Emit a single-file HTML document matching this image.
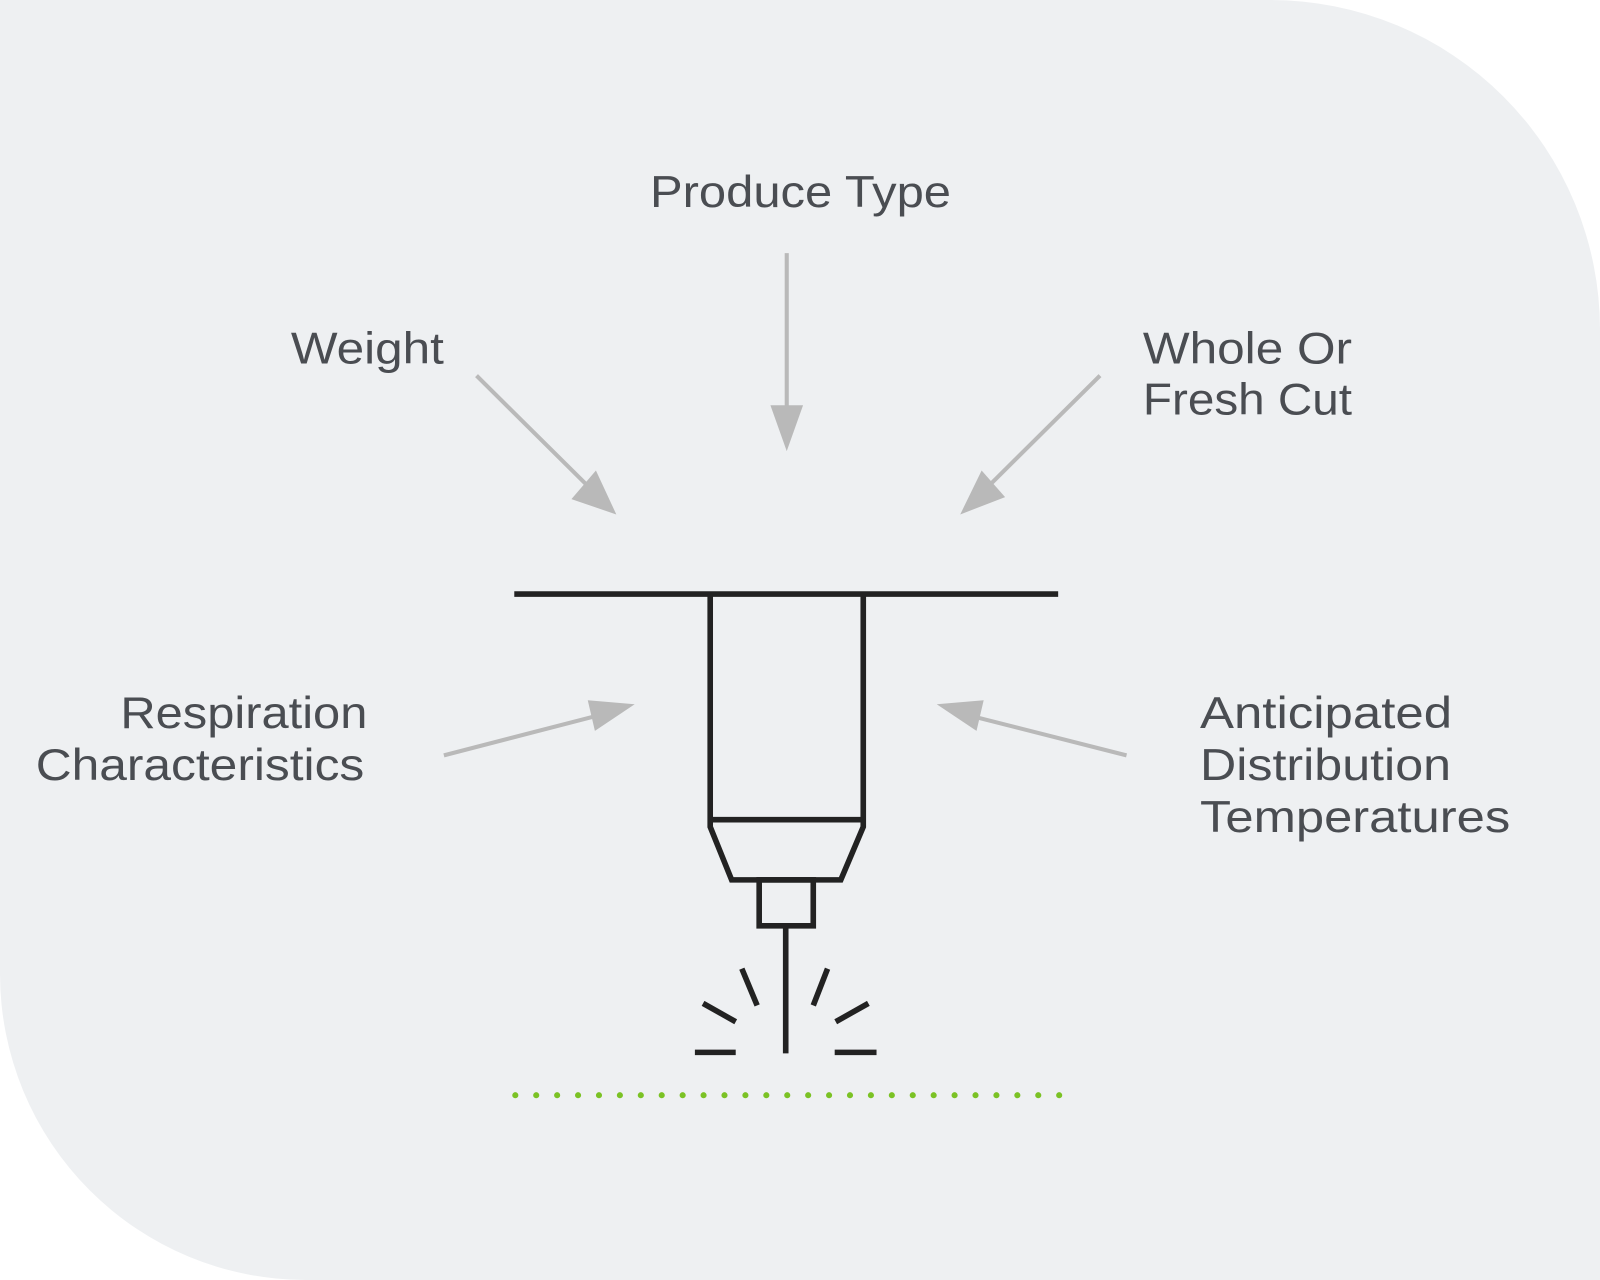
<!DOCTYPE html>
<html><head><meta charset="utf-8"><style>
html,body{margin:0;padding:0;background:#fff;}
svg{display:block;}
text{font-family:"Liberation Sans",sans-serif;font-size:44px;fill:#4a4d52;}
</style></head><body>
<svg width="1600" height="1280" viewBox="0 0 1568 1254" preserveAspectRatio="none">
<path d="M0 0 H1245 A323 323 0 0 1 1568 323 V1254 H300 A300 300 0 0 1 0 954 Z" fill="#eef0f2"/>
<text x="637" y="203" textLength="295" lengthAdjust="spacingAndGlyphs">Produce Type</text>
<text x="285" y="356" textLength="150" lengthAdjust="spacingAndGlyphs">Weight</text>
<text x="1120" y="356" textLength="205" lengthAdjust="spacingAndGlyphs">Whole Or</text>
<text x="1120" y="406" textLength="205" lengthAdjust="spacingAndGlyphs">Fresh Cut</text>
<text x="118" y="713" textLength="242" lengthAdjust="spacingAndGlyphs">Respiration</text>
<text x="35" y="764" textLength="322" lengthAdjust="spacingAndGlyphs">Characteristics</text>
<text x="1176" y="713" textLength="247" lengthAdjust="spacingAndGlyphs">Anticipated</text>
<text x="1176" y="764" textLength="246" lengthAdjust="spacingAndGlyphs">Distribution</text>
<text x="1176" y="815" textLength="304" lengthAdjust="spacingAndGlyphs">Temperatures</text>
<g stroke="#b9b9b9" stroke-width="4" fill="none">
<line x1="771" y1="248" x2="771" y2="402"/>
<line x1="467" y1="368" x2="578" y2="478"/>
<line x1="1078" y1="368" x2="968" y2="477"/>
<line x1="435" y1="740" x2="582" y2="702"/>
<line x1="1104" y1="740" x2="958" y2="703"/>
</g>
<g fill="#b9b9b9">
<polygon points="771,442 755,397 787,397"/>
<polygon points="604,504 560,489 584,461"/>
<polygon points="941,504 962,461 985,487"/>
<polygon points="622,690 576,686 583,716"/>
<polygon points="918,690 964,686 957,716"/>
</g>
<g stroke="#222" stroke-width="5.5" fill="none">
<line x1="504" y1="582" x2="1037" y2="582"/>
<path d="M696 582 V810 L717 862 H824 L846 810 V582"/>
<line x1="696" y1="803" x2="846" y2="803"/>
<rect x="744" y="862" width="53" height="45"/>
<line x1="770" y1="907" x2="770" y2="1032"/>
<line x1="727" y1="949" x2="742" y2="985"/>
<line x1="811" y1="949" x2="797" y2="985"/>
<line x1="689" y1="983" x2="721" y2="1001"/>
<line x1="851" y1="983" x2="819" y2="1001"/>
<line x1="681" y1="1031" x2="721" y2="1031"/>
<line x1="818" y1="1031" x2="859" y2="1031"/>
</g>
<line x1="505" y1="1073" x2="1040" y2="1073" stroke="#7bc225" stroke-width="6" stroke-linecap="round" stroke-dasharray="0 20.5"/>
</svg>
</body></html>
